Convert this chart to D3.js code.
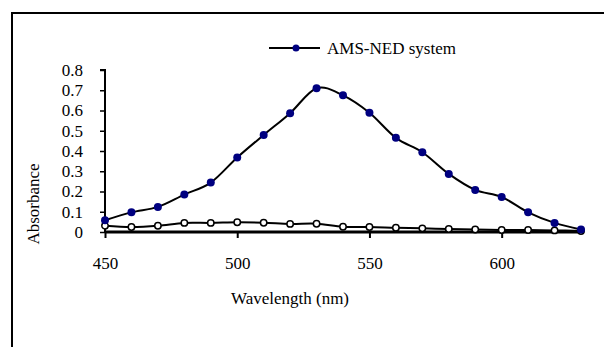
<!DOCTYPE html>
<html>
<head>
<meta charset="utf-8">
<script src="https://cdn.jsdelivr.net/npm/d3@7"></script>
<style>
  html, body { margin: 0; padding: 0; background: #fff; overflow: hidden; }
  svg { display: block; }
  svg text { font-family: "Liberation Serif", "Times New Roman", serif; }
</style>
</head>
<body>
<div id="chart"></div>
<script>
// Wavelengths (nm) and absorbance readings
let wavelengths = [450, 460, 470, 480, 490, 500, 510, 520, 530, 540, 550, 560, 570, 580, 590, 600, 610, 620, 630];
let amsNed = [0.058, 0.097, 0.124, 0.185, 0.244, 0.368, 0.479, 0.587, 0.710, 0.675, 0.589, 0.465, 0.394, 0.287, 0.208, 0.173, 0.097, 0.045, 0.012];
let blank = [0.031, 0.025, 0.031, 0.045, 0.045, 0.048, 0.046, 0.040, 0.041, 0.026, 0.025, 0.021, 0.018, 0.015, 0.012, 0.010, 0.010, 0.008, 0.005];
let xTicks = [450, 500, 550, 600];
let yTicks = [0, 0.1, 0.2, 0.3, 0.4, 0.5, 0.6, 0.7, 0.8];

let svgWidth = 604;
let svgHeight = 347;
let serif = "Liberation Serif";

let margin = { top: 70, left: 105 };
let width = 476;
let height = 162;

let svg = d3.select("#chart")
  .append("svg")
  .attr("width", svgWidth)
  .attr("height", svgHeight);

// outer frame: only top and left edges fall inside the picture
svg.append("path")
  .attr("d", `M12,${svgHeight}V13H${svgWidth}`)
  .attr("fill", "none")
  .attr("stroke", "#000")
  .attr("stroke-width", 2);

let chartGroup = svg.append("g")
  .attr("transform", `translate(${margin.left}, ${margin.top})`);

let x = d3.scaleLinear().domain([450, 630]).range([0, width]);
let y = d3.scaleLinear().domain([0, 0.8]).range([height, 0]);

// y axis
let yAxis = chartGroup.append("g")
  .call(d3.axisLeft(y).tickValues(yTicks).tickSize(5).tickFormat(d => d === 0 ? "0" : d3.format(".1f")(d)))
  .attr("font-family", serif)
  .attr("font-size", 17);
yAxis.select(".domain").attr("stroke-width", 2).attr("d", `M-5,0H0V${height}`);
yAxis.selectAll(".tick line").attr("stroke-width", 1.5);
yAxis.selectAll(".tick text").attr("x", -22);

// x axis
let xAxis = chartGroup.append("g")
  .attr("transform", `translate(0, ${height})`)
  .call(d3.axisBottom(x).tickValues(xTicks).tickSize(6).tickFormat(d3.format("d")))
  .attr("font-family", serif)
  .attr("font-size", 17);
xAxis.select(".domain").attr("stroke-width", 3).attr("d", `M0,0H${width}`);
xAxis.selectAll(".tick line").attr("stroke-width", 2);
xAxis.selectAll(".tick text").attr("y", 25);

// axis titles
svg.append("text")
  .attr("x", 290)
  .attr("y", 304)
  .attr("text-anchor", "middle")
  .attr("font-family", serif)
  .attr("font-size", 17)
  .text("Wavelength (nm)");

svg.append("text")
  .attr("transform", "translate(39, 204) rotate(-90)")
  .attr("text-anchor", "middle")
  .attr("font-family", serif)
  .attr("font-size", 17)
  .text("Absorbance");

let line = d3.line()
  .x((d, i) => x(wavelengths[i]))
  .y(d => y(d))
  .curve(d3.curveCatmullRom.alpha(0));

// blank series
chartGroup.append("path")
  .datum(blank)
  .attr("d", line)
  .attr("fill", "none")
  .attr("stroke", "#000")
  .attr("stroke-width", 2);

chartGroup.selectAll(".blank-pt")
  .data(blank)
  .enter()
  .append("circle")
  .attr("class", "blank-pt")
  .attr("cx", (d, i) => x(wavelengths[i]))
  .attr("cy", d => y(d))
  .attr("r", 3.2)
  .attr("fill", "#fff")
  .attr("stroke", "#000")
  .attr("stroke-width", 1.5);

// AMS-NED series
chartGroup.append("path")
  .datum(amsNed)
  .attr("d", line)
  .attr("fill", "none")
  .attr("stroke", "#000")
  .attr("stroke-width", 2);

chartGroup.selectAll(".ams-pt")
  .data(amsNed)
  .enter()
  .append("circle")
  .attr("class", "ams-pt")
  .attr("cx", (d, i) => x(wavelengths[i]))
  .attr("cy", d => y(d))
  .attr("r", 4)
  .attr("fill", "#000080");

// legend
let legend = svg.append("g").attr("transform", "translate(269, 48)");
legend.append("line")
  .attr("x1", 0).attr("x2", 51)
  .attr("stroke", "#000").attr("stroke-width", 2);
legend.append("circle")
  .attr("cx", 27).attr("r", 3.5).attr("fill", "#000080");
legend.append("text")
  .attr("x", 58)
  .attr("y", 6)
  .attr("font-family", serif)
  .attr("font-size", 17)
  .text("AMS-NED system");
</script>
</body>
</html>
